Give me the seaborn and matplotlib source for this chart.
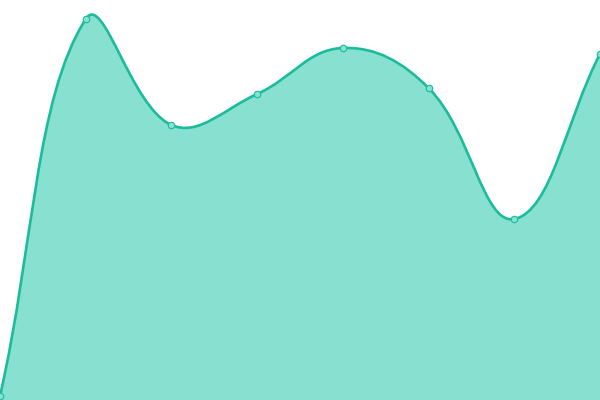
import numpy as np
import pandas as pd
import matplotlib
matplotlib.use("Agg")
import matplotlib.pyplot as plt
import seaborn as sns
from matplotlib.path import Path
from matplotlib.patches import PathPatch

# data
labels = ["A", "B", "C", "D", "E", "F", "G", "H"]
values = [4, 381, 275, 306, 352, 312, 181, 346]

LINE = "#1abc9c"
FILL = "#88e0d0"
TENSION = 0.4


def spline_controls(px, py, t=TENSION):
    # chart.js style cardinal spline control points (in pixel space)
    n = len(px)
    ctrl = []
    for i in range(n):
        p0 = (px[max(i - 1, 0)], py[max(i - 1, 0)])
        p1 = (px[i], py[i])
        p2 = (px[min(i + 1, n - 1)], py[min(i + 1, n - 1)])
        d01 = np.hypot(p1[0] - p0[0], p1[1] - p0[1])
        d12 = np.hypot(p2[0] - p1[0], p2[1] - p1[1])
        s01 = d01 / (d01 + d12) if d01 + d12 else 0
        s12 = d12 / (d01 + d12) if d01 + d12 else 0
        fa, fb = t * s01, t * s12
        prev = (p1[0] - fa * (p2[0] - p0[0]), p1[1] - fa * (p2[1] - p0[1]))
        nxt = (p1[0] + fb * (p2[0] - p0[0]), p1[1] + fb * (p2[1] - p0[1]))
        ctrl.append((prev, nxt))
    return ctrl


sns.set_style("white")
fig = plt.figure(figsize=(6, 4), dpi=100)
ax = fig.add_axes([0, 0, 1, 1])
n = len(values)
ax.set_xlim(0, n - 1)
ax.set_ylim(0, 400)
ax.axis("off")

# work in pixels so the curve looks like the canvas one
sx = 600 / (n - 1)
sy = 400 / 400
px = [i * sx for i in range(n)]
py = [v * sy for v in values]
ctrl = spline_controls(px, py)

verts = [(px[0], py[0])]
codes = [Path.MOVETO]
for i in range(n - 1):
    verts += [ctrl[i][1], ctrl[i + 1][0], (px[i + 1], py[i + 1])]
    codes += [Path.CURVE4] * 3
verts = [(x / sx, y / sy) for x, y in verts]

fill_verts = verts + [(n - 1, 0), (0, 0), verts[0]]
fill_codes = codes + [Path.LINETO, Path.LINETO, Path.CLOSEPOLY]
ax.add_patch(PathPatch(Path(fill_verts, fill_codes), facecolor=FILL, edgecolor="none"))
ax.add_patch(PathPatch(Path(verts, codes), facecolor="none", edgecolor=LINE, lw=1.9,
                       capstyle="round", joinstyle="round"))

df = pd.DataFrame({"x": range(n), "y": values, "label": labels})
sns.scatterplot(data=df, x="x", y="y", ax=ax, s=22, color=FILL, edgecolor=LINE,
                linewidth=0.8, zorder=5, clip_on=False, legend=False)
ax.axis("off")

fig.savefig("out.png", dpi=100)
